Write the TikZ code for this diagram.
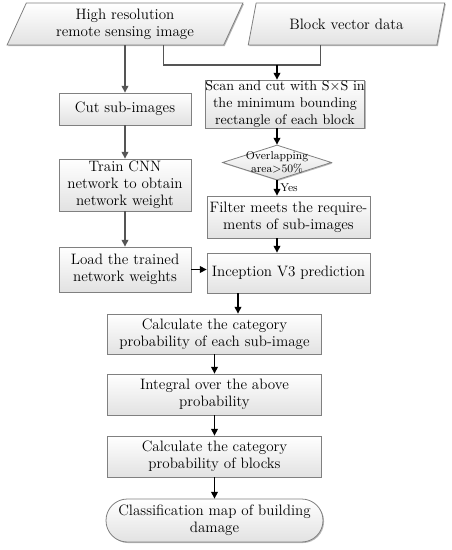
\documentclass[tikz,border=0pt]{standalone}
\usepackage{fontspec}
\usetikzlibrary{positioning,calc,shapes.geometric,shadows,arrows.meta}
\definecolor{flowgray}{RGB}{128,128,128}
\definecolor{arrowgray}{RGB}{85,85,85}
\definecolor{boxshade}{RGB}{226,226,226}

\begin{document}
\begin{tikzpicture}[
  x=0.75pt, y=-0.75pt,
  pbox/.style={draw=flowgray, line width=0.6pt, top color=white, bottom color=boxshade, drop shadow={shadow xshift=0.8pt, shadow yshift=-0.8pt, fill=black!35, opacity=0.8}, align=center, font=\fontsize{11.3}{12.8}\selectfont, inner sep=0.5pt},
  iobox/.style={pbox, trapezium, trapezium left angle=67, trapezium right angle=113, trapezium stretches=true, minimum height=31.5pt},
  decision/.style={pbox, diamond, minimum width=81.75pt, minimum height=26.25pt, inner sep=0pt},
  endbox/.style={pbox, rounded corners=16pt, minimum width=162.75pt, minimum height=32.25pt},
  flow/.style={arrowgray, line width=0.9pt},
  arr/.style={-{Stealth[length=5pt, width=5pt, inset=0pt]}, line width=0.9pt},
]
\useasboundingbox (0,0) rectangle (451,550);

% inputs
\node[iobox, minimum width=177pt] (hr) at (125,24) {High resolution\\remote sensing image};
\node[iobox, minimum width=147.75pt] (bv) at (346.5,24) {Block vector data};

% left column
\node[pbox, minimum width=99pt, minimum height=24pt] (cut) at (125,109) {Cut sub-images};
\node[pbox, minimum width=99pt, minimum height=39pt] (train) at (125,185) {Train CNN\\network to obtain\\network weight};
\node[pbox, minimum width=99pt, minimum height=33.75pt] (load) at (125,269.5) {Load the trained\\network weights};

% right column
\node[pbox, minimum width=117pt, minimum height=36pt, font=\fontsize{10.5}{12.4}\selectfont, inner xsep=0pt] (scan) at (285,104) {Scan and cut with S×S in\\the minimum bounding\\rectangle of each block};
\node[decision, label={[align=center, font=\fontsize{8.5}{10}\selectfont]center:Overlapping\\area>50\%}] (ovl) at (277,162.5) {};
\node[pbox, minimum width=122.25pt, minimum height=31.5pt] (filter) at (288.5,217) {Filter meets the require-\\ments of sub-images};
\node[pbox, minimum width=122.25pt, minimum height=30pt] (inc) at (288.5,273) {Inception V3 prediction};

% lower part
\node[pbox, minimum width=160pt, minimum height=30pt] (prob) at (214.5,334) {Calculate the category\\probability of each sub-image};
\node[pbox, minimum width=160pt, minimum height=30.75pt] (integ) at (214.5,394.5) {Integral over the above\\probability};
\node[pbox, minimum width=160pt, minimum height=30.75pt] (blockprob) at (214.5,456.5) {Calculate the category\\probability of blocks};
\node[endbox] (map) at (214.5,520.5) {Classification map of building\\damage};

% connectors
\coordinate (join) at (277,65);
\coordinate (mid) at (238,300);
\draw[flow] ($(hr.south)+(38.5,0)$) |- (join);
\draw[flow] ($(bv.south)+(-26,0)$) |- (join);
\draw[arr] (join) -- (scan.north -| join);
\draw[arr, arrowgray] (hr.south -| cut.north) -- (cut.north);
\draw[arr, arrowgray] (cut.south) -- (train.north);
\draw[arr, arrowgray] (train.south) -- (load.north);
\draw[arr] (scan.south -| ovl.north) -- (ovl.north);
\draw[arr] (ovl.south) -- node[right, font=\fontsize{8.5}{10}\selectfont, inner sep=2pt] {Yes} (filter.north -| ovl.south);
\draw[arr] (filter.south -| ovl.south) -- (inc.north -| ovl.south);
\draw[arr] (load.east) -- (load.east -| inc.west);
\draw[arr] (inc.south -| mid) -- (prob.north -| mid);
\draw[arr] (prob.south) -- (integ.north);
\draw[arr] (integ.south) -- (blockprob.north);
\draw[arr] (blockprob.south) -- (map.north);
\end{tikzpicture}
\end{document}
